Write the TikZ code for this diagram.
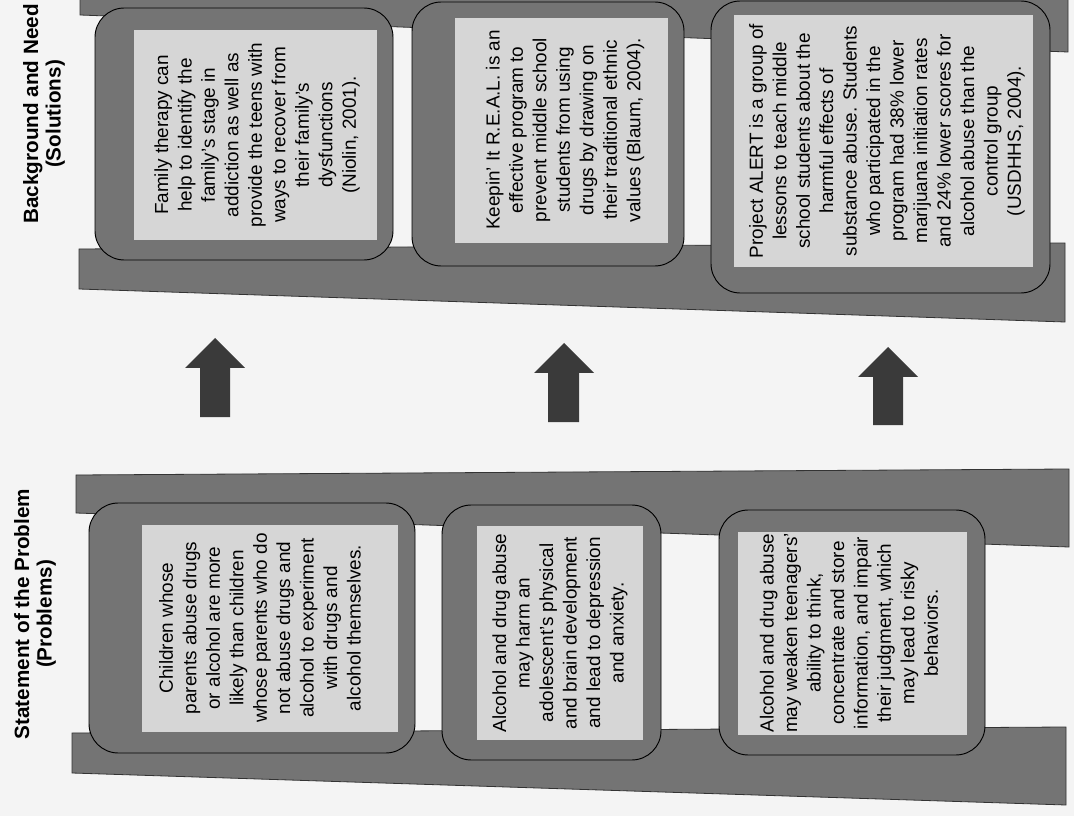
\documentclass[tikz,border=0pt]{standalone}
\usepackage{fontspec}
\setmainfont{Liberation Sans}
\definecolor{pagebg}{RGB}{244,244,244}
\definecolor{railgray}{RGB}{116,116,116}
\definecolor{innergray}{RGB}{214,214,214}
\definecolor{arrowgray}{RGB}{58,58,58}
\begin{document}
\begin{tikzpicture}[x=0.75pt,y=-0.75pt,
  rail/.style={fill=railgray, draw=black!80, line width=0.6pt},
  boxshape/.style={fill=railgray, draw=black, line width=0.7pt, rounded corners=22pt},
  innerbox/.style={fill=innergray, draw=none},
  txt/.style={rotate=90, align=center, inner sep=0pt, font=\fontsize{14.2}{17.6}\selectfont},
  title/.style={rotate=90, align=center, inner sep=0pt, font=\fontsize{15.5}{16.8}\selectfont\bfseries},
  blockarrow/.style={fill=arrowgray, draw=none}]
\useasboundingbox (0,0) rectangle (1074,816);
\fill[pagebg] (0,0) rectangle (1074,816);
\begin{scope}
\clip (0,0) rectangle (1074,816);
% ---------- top ladder (Solutions) ----------
\draw[rail] (80,-6) -- (1068,-6) -- (1068,52) -- (80,15) -- cycle;
\draw[rail] (79,249) -- (1065,243) -- (1065,322) -- (79,289) -- cycle;
\draw[boxshape] (95,8) rectangle (393,260);
\fill[innerbox] (134,30) rectangle (377,240);
\draw[boxshape] (412,2) rectangle (684,266);
\fill[innerbox] (455,18) rectangle (668,243);
\draw[boxshape] (711,1) rectangle (1050,293);
\fill[innerbox] (734,15) rectangle (1033,267);
% ---------- bottom ladder (Problems) ----------
\draw[rail] (76,475) -- (1069,469) -- (1069,547) -- (76,513) -- cycle;
\draw[rail] (72,733) -- (1066,727) -- (1066,805) -- (72,773) -- cycle;
\draw[boxshape] (89,503) rectangle (415,753);
\fill[innerbox] (142,525) rectangle (398,732);
\draw[boxshape] (442,505) rectangle (661,760);
\fill[innerbox] (477,526) rectangle (643,740);
\draw[boxshape] (719,510) rectangle (985,755);
\fill[innerbox] (738,532) rectangle (967,735);
\end{scope}
% ---------- arrows ----------
\fill[blockarrow] (215,338) -- (245,368) -- (230,368) -- (230,417) -- (200,417) -- (200,368) -- (185,368) -- cycle;
\fill[blockarrow] (564,343) -- (594,373) -- (579,373) -- (579,422) -- (548,422) -- (548,373) -- (534,373) -- cycle;
\fill[blockarrow] (888,347) -- (918,377) -- (903,377) -- (903,425) -- (873,425) -- (873,377) -- (858,377) -- cycle;
% ---------- titles ----------
\node[title] (soltitle) at (44,114) {Background and Need\\(Solutions)};
\node[title] (probtitle) at (35,614) {Statement of the Problem\\(Problems)};
% ---------- texts ----------
\node[txt] (t1) at (257,135) {Family therapy can\\help to identify the\\family's stage in\\addiction as well as\\provide the teens with\\ways to recover from\\their family's\\dysfunctions\\(Niolin, 2001).};
\node[txt] (t2) at (565,130) {Keepin' It R.E.A.L. is an\\effective program to\\prevent middle school\\students from using\\drugs by drawing on\\their traditional ethnic\\values (Blaum, 2004).};
\node[txt] (t3) at (887,141) {Project ALERT is a group of\\lessons to teach middle\\school students about the\\harmful effects of\\substance abuse. Students\\who participated in the\\program had 38\% lower\\marijuana initiation rates\\and 24\% lower scores for\\alcohol abuse than the\\control group\\(USDHHS, 2004).};
\node[txt] (b1) at (260,628) {Children whose\\parents abuse drugs\\or alcohol are more\\likely than children\\whose parents who do\\not abuse drugs and\\alcohol to experiment\\with drugs and\\alcohol themselves.};
\node[txt] (b2) at (560,633) {Alcohol and drug abuse\\may harm an\\adolescent's physical\\and brain development\\and lead to depression\\and anxiety.};
\node[txt] (b3) at (849,633) {Alcohol and drug abuse\\may weaken teenagers'\\ability to think,\\concentrate and store\\information, and impair\\their judgment, which\\may lead to risky\\behaviors.};
\end{tikzpicture}
\end{document}
